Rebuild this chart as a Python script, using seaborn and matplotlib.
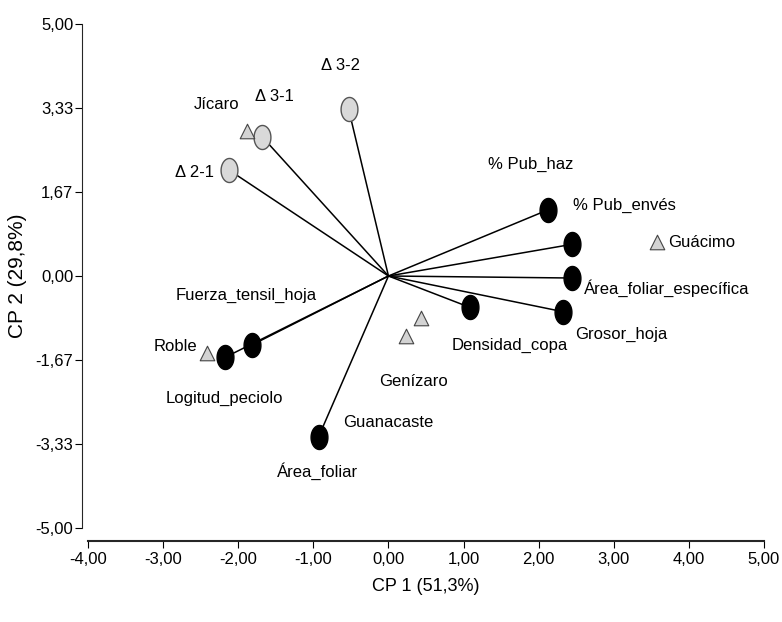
import numpy as np
import pandas as pd
import matplotlib
matplotlib.use("Agg")
import matplotlib.pyplot as plt
import seaborn as sns

# ---- data ----
var_names = ["% Pub_haz", "% Pub_envés", "Área_foliar_específica", "Grosor_hoja",
             "Densidad_copa", "Fuerza_tensil_hoja", "Logitud_peciolo", "Área_foliar"]
var_x = [2.12, 2.45, 2.44, 2.33, 1.08, -1.82, -2.17, -0.93]
var_y = [1.31, 0.63, -0.04, -0.71, -0.62, -1.37, -1.61, -3.19]

diff_names = ["Δ 3-2", "Δ 3-1", "Δ 2-1"]
diff_x = [-0.53, -1.68, -2.12]
diff_y = [3.31, 2.76, 2.10]

sp_names = ["Jícaro", "Roble", "Genízaro", "Genízaro", "Guácimo"]
sp_x = [-1.88, -2.41, 0.24, 0.44, 3.58]
sp_y = [2.88, -1.53, -1.19, -0.83, 0.67]

# label positions
lab_text = ["% Pub_haz", "% Pub_envés", "Guácimo", "Área_foliar_específica", "Grosor_hoja",
            "Densidad_copa", "Genízaro", "Guanacaste", "Área_foliar", "Fuerza_tensil_hoja",
            "Roble", "Logitud_peciolo", "Δ 2-1", "Jícaro", "Δ 3-1", "Δ 3-2"]
lab_x = [1.90, 3.14, 3.73, 2.60, 2.48, 1.62, 0.33, 0.00, -0.95, -1.89,
         -2.83, -2.18, -2.58, -2.29, -1.52, -0.64]
lab_y = [2.22, 1.41, 0.67, -0.24, -1.15, -1.37, -2.10, -2.90, -3.87, -0.38,
         -1.39, -2.42, 2.06, 3.41, 3.57, 4.17]
lab_ha = ["center", "center", "left", "left", "left", "center", "center", "center",
          "center", "center", "center", "center", "center", "center", "center", "center"]

xticks = [-4, -3, -2, -1, 0, 1, 2, 3, 4, 5]
yticks = [-5.0, -10/3, -5/3, 0.0, 5/3, 10/3, 5.0]
xticklabels = ["-4,00", "-3,00", "-2,00", "-1,00", "0,00", "1,00", "2,00", "3,00", "4,00", "5,00"]
yticklabels = ["-5,00", "-3,33", "-1,67", "0,00", "1,67", "3,33", "5,00"]

# ---- style ----
sns.set_style("ticks")
plt.rcParams["font.family"] = ["Liberation Sans", "DejaVu Sans"]

fig = plt.figure(figsize=(7.82, 6.22), dpi=100)
ax = fig.add_axes([88/782, (622-528)/622, (764-88)/782, (528-24)/622])

# ellipse marker
t = np.linspace(0, 2*np.pi, 60)
ell = np.column_stack([0.7*np.cos(t), np.sin(t)])

# lines from origin
for x, y in zip(var_x + diff_x, var_y + diff_y):
    ax.plot([0, x], [0, y], color="black", lw=1.1, zorder=1)

dv = pd.DataFrame({"x": var_x, "y": var_y})
dd = pd.DataFrame({"x": diff_x, "y": diff_y})
ds = pd.DataFrame({"x": sp_x, "y": sp_y})
sns.scatterplot(data=dv, x="x", y="y", ax=ax, marker=ell, s=300, color="black",
                edgecolor="black", linewidth=1, zorder=3)
sns.scatterplot(data=dd, x="x", y="y", ax=ax, marker=ell, s=300, color="#d9d9d9",
                edgecolor="#555555", linewidth=1, zorder=3)
sns.scatterplot(data=ds, x="x", y="y", ax=ax, marker="^", s=110, color="#d3d3d3",
                edgecolor="#444444", linewidth=0.8, zorder=3)

for txt, x, y, ha in zip(lab_text, lab_x, lab_y, lab_ha):
    ax.text(x, y, txt, ha=ha, va="center", fontsize=12, color="black")

ax.set_xlim(-4, 5)
ax.set_ylim(-5, 5)
ax.set_xticks(xticks)
ax.set_xticklabels(xticklabels)
ax.set_yticks(yticks)
ax.set_yticklabels(yticklabels)
ax.tick_params(axis="both", labelsize=12, length=5, width=0.8, colors="black")
ax.tick_params(axis="y", pad=1.5)
ax.spines["top"].set_visible(False)
ax.spines["right"].set_visible(False)
ax.spines["left"].set_position(("outward", 4))
ax.spines["bottom"].set_position(("outward", 9))
ax.spines["left"].set_linewidth(0.8)
ax.spines["bottom"].set_linewidth(1.5)
ax.set_xlabel("CP 1 (51,3%)", fontsize=13, labelpad=8, color="black")
ax.set_ylabel("CP 2 (29,8%)", fontsize=15, labelpad=6, color="black")

fig.savefig("out.png", dpi=100)
